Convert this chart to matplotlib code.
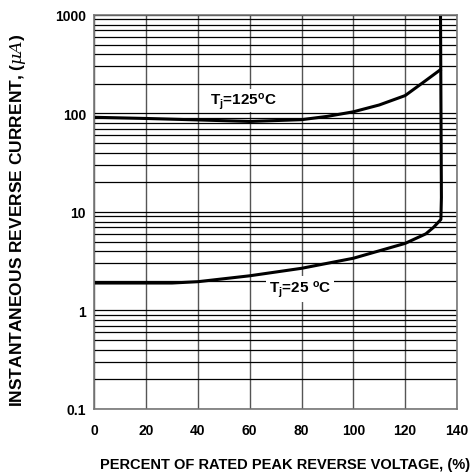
import matplotlib
matplotlib.use("Agg")
import matplotlib.pyplot as plt
from matplotlib.ticker import FixedLocator, FixedFormatter, LogLocator, NullFormatter

plt.rcParams['font.family'] = ['Liberation Sans', 'DejaVu Sans']
plt.rcParams['mathtext.fontset'] = 'custom'
plt.rcParams['mathtext.rm'] = 'Liberation Sans:bold'
plt.rcParams['mathtext.bf'] = 'Liberation Sans:bold'
plt.rcParams['mathtext.it'] = 'DejaVu Serif:italic'

# Tj = 125 C curve
x125 = [0, 20, 40, 60, 80, 90, 100, 110, 120, 127, 134]
y125 = [91.5, 89, 86, 83, 86.5, 93.5, 104, 122, 152, 207, 283]

# Tj = 25 C curve (ends with the breakdown knee going straight up)
x25 = [0, 20, 30, 40, 60, 80, 100, 120, 128, 131, 133.8, 134.0, 133.6]
y25 = [1.9, 1.9, 1.9, 1.96, 2.25, 2.68, 3.39, 4.8, 6.0, 7.0, 8.4, 14, 2000]

xticks = [0, 20, 40, 60, 80, 100, 120, 140]
yticks = [0.1, 1, 10, 100, 1000]
ylabels = ["0.1", "1", "10", "100", "1000"]

fig = plt.figure(figsize=(4.75, 4.77), dpi=100)
ax = fig.add_axes([0.1985, 0.1405, 0.7635, 0.826])

ax.set_yscale("log")
ax.set_xlim(0, 140)
ax.set_ylim(0.1, 1000)

ax.yaxis.set_major_locator(FixedLocator(yticks))
ax.yaxis.set_major_formatter(FixedFormatter(ylabels))
ax.yaxis.set_minor_locator(LogLocator(base=10, subs=range(2, 10)))
ax.yaxis.set_minor_formatter(NullFormatter())
ax.set_xticks(xticks)

ax.grid(True, axis="y", which="both", color="black", lw=0.9)
ax.grid(True, axis="x", which="major", color="#555555", lw=1.0)
ax.set_axisbelow(True)

for s in ax.spines.values():
    s.set_color("#777777")
    s.set_linewidth(1.2)

ax.tick_params(which="both", length=0)
ax.tick_params(axis="y", pad=6)
ax.tick_params(axis="x", pad=10)
for lab in ax.get_xticklabels() + ax.get_yticklabels():
    lab.set_fontweight("bold")
    lab.set_fontsize(10)

ax.plot(x125, y125, color="black", lw=2.2, solid_capstyle="butt")
ax.plot(x25, y25, color="black", lw=2.2, solid_capstyle="butt")

ax.text(57.4, 134, r"T$_\mathrm{j}$=125$^\mathrm{o}$C", ha="center", va="center",
        fontsize=11, fontweight="bold",
        bbox=dict(facecolor="white", edgecolor="none", pad=1))
ax.text(79.4, 1.65, r"T$_\mathrm{j}$=25 $^\mathrm{o}$C", ha="center", va="center",
        fontsize=11, fontweight="bold",
        bbox=dict(facecolor="white", edgecolor="none", pad=2))

fig.text(285 / 475, 1 - 465 / 477, "PERCENT OF RATED PEAK REVERSE VOLTAGE, (%)",
         fontsize=10.5, fontweight="bold", ha="center", va="center")
fig.text(18 / 475, 1 - 220 / 477, "INSTANTANEOUS REVERSE CURRENT, " + r"($\mu A$)",
         fontsize=12.5, fontweight="bold", ha="center", va="center", rotation=90)

fig.savefig("out.png", dpi=100)
